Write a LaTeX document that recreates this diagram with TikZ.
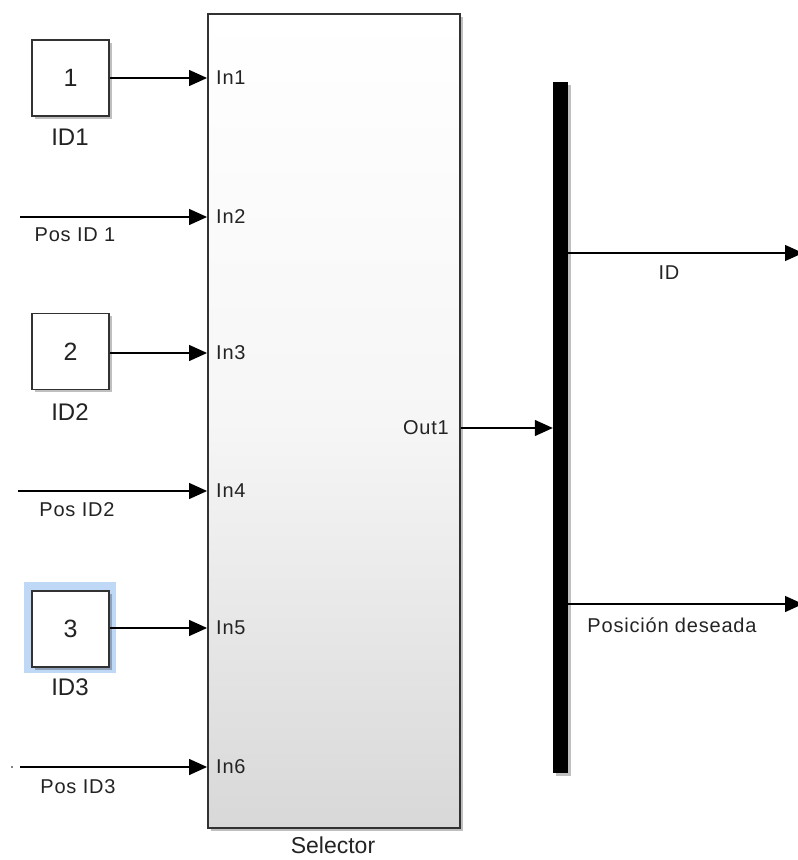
\documentclass[tikz,border=0pt]{standalone}
\usepackage{fontspec}
\setmainfont{Liberation Sans}
\newfontfamily\lblfont[LetterSpace=4]{Liberation Sans}
\usetikzlibrary{arrows.meta,shadows}
\definecolor{txt}{RGB}{35,35,35}
\definecolor{edge}{RGB}{50,50,50}
\definecolor{hlblue}{RGB}{190,216,246}
\begin{document}
\begin{tikzpicture}[x=1pt,y=-1pt,
  shade1/.style={drop shadow={shadow xshift=2.5pt,shadow yshift=-2.5pt,opacity=0.25,fill=black}},
  selbox/.style={draw=edge,line width=1.9pt,top color=white,bottom color={rgb,255:red,216;green,216;blue,216},middle color={rgb,255:red,246;green,246;blue,246},shade1,inner sep=0pt},
  constbox/.style={draw=edge,line width=1.9pt,fill=white,minimum width=77pt,minimum height=76pt,inner sep=0pt,font=\fontsize{25}{30}\selectfont,text=txt,shade1},
  hlbox/.style={fill=hlblue,minimum width=92pt,minimum height=91pt,inner sep=0pt},
  busbar/.style={fill=black,minimum width=15pt,minimum height=691pt,inner sep=0pt,shade1},
  port/.style={font=\lblfont\fontsize{20}{24}\selectfont,text=txt,inner sep=0pt},
  blklbl/.style={font=\fontsize{24}{28}\selectfont,text=txt,inner sep=0pt},
  sig/.style={font=\lblfont\fontsize{20}{24}\selectfont,text=txt,inner sep=0pt},
  conn/.style={draw=black,line width=1.3pt,-{Triangle[length=18pt,width=16pt]}}]
\useasboundingbox (0,0) rectangle (798,860);
\fill[white] (0,0) rectangle (798,860);
% selector block
\node[selbox,minimum width=252pt,minimum height=814pt] (sel) at (334,421) {};
\node[blklbl,font=\fontsize{23}{27}\selectfont] (sellbl) at (333,845.5) {Selector};
% constant blocks
\node[hlbox] (hl3) at (70,627.5) {};
\node[constbox] (c1) at (70.5,78) {1};
\node[constbox] (c2) at (70.5,351.5) {2};
\node[constbox] (c3) at (70.5,629) {3};
\node[blklbl] (l1) at (70,137) {ID1};
\node[blklbl] (l2) at (70,412) {ID2};
\node[blklbl] (l3) at (70,687) {ID3};
% input ports
\node[port,anchor=west] (in1) at (216,78) {In1};
\node[port,anchor=west] (in2) at (216,217) {In2};
\node[port,anchor=west] (in3) at (216,353) {In3};
\node[port,anchor=west] (in4) at (216,491) {In4};
\node[port,anchor=west] (in5) at (216,628) {In5};
\node[port,anchor=west] (in6) at (216,767) {In6};
\node[port,anchor=east] (out1) at (449,428) {Out1};
% bus
\node[busbar] (bus) at (560.5,427.5) {};
% signal labels
\node[sig] (s1) at (75,235) {Pos ID 1};
\node[sig] (s2) at (77,510) {Pos ID2};
\node[sig] (s3) at (78,787) {Pos ID3};
\node[sig] (sid) at (669,273) {ID};
\node[sig] (spos) at (672,625) {Posición deseada};
% free ends
\coordinate (p1) at (20,217);
\coordinate (p2) at (18,491);
\coordinate (p3) at (20,767);
\coordinate (oid) at (803,253);
\coordinate (opos) at (803,604);
\fill[black] (12,767) circle (0.9pt);
% connectors
\draw[conn] (c1.east) -- (c1.east -| sel.west);
\draw[conn] (p1) -- (p1 -| sel.west);
\draw[conn] (c2.east |- in3) -- (in3 -| sel.west);
\draw[conn] (p2) -- (p2 -| sel.west);
\draw[conn] (c3.east |- in5) -- (in5 -| sel.west);
\draw[conn] (p3) -- (p3 -| sel.west);
\draw[conn] (out1 -| sel.east) -- (out1 -| bus.west);
\draw[conn] (bus.east |- oid) -- (oid);
\draw[conn] (bus.east |- opos) -- (opos);
\end{tikzpicture}
\end{document}
